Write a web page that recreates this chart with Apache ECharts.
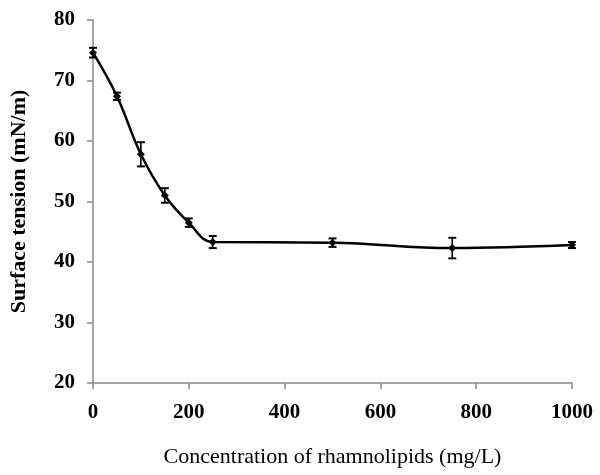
<!DOCTYPE html>
<html>
<head>
<meta charset="utf-8">
<script src="https://cdn.jsdelivr.net/npm/echarts@6/dist/echarts.min.js"></script>
<style>html,body{margin:0;padding:0;background:#fff;}#c{width:600px;height:475px;}</style>
</head>
<body>
<div id="c"></div>
<script>
var concentrations = [0, 50, 100, 150, 200, 250, 500, 750, 1000];
var tension = [74.6, 67.4, 57.8, 51.0, 46.5, 43.3, 43.2, 42.3, 42.8];
var errors = [0.8, 0.6, 2.0, 1.2, 0.7, 1.0, 0.7, 1.7, 0.5];
var xTicks = [0, 200, 400, 600, 800, 1000];
var yTicks = [20, 30, 40, 50, 60, 70, 80];

var lineData = concentrations.map(function (c, i) { return [c, tension[i]]; });
var errData = concentrations.map(function (c, i) { return [c, tension[i] - errors[i], tension[i] + errors[i]]; });

var chart = echarts.init(document.getElementById('c'), null, {renderer: 'canvas'});
var font = '"Liberation Serif", "Times New Roman", serif';
chart.setOption({
  animation: false,
  backgroundColor: '#fff',
  grid: {left: 92, right: 28, top: 20, bottom: 92},
  xAxis: {
    type: 'value', min: xTicks[0], max: xTicks[xTicks.length - 1], interval: 200,
    name: 'Concentration of rhamnolipids (mg/L)', nameLocation: 'middle', nameGap: 63,
    nameTextStyle: {fontFamily: font, fontSize: 22, color: '#000'},
    axisLine: {lineStyle: {color: '#888', width: 1.5}},
    axisTick: {show: true, inside: false, length: 6, lineStyle: {color: '#888', width: 1.5}},
    axisLabel: {fontFamily: font, fontSize: 21, fontWeight: 'bold', color: '#000', margin: 19,
      formatter: function (v) { return String(v); }},
    splitLine: {show: false}
  },
  yAxis: {
    type: 'value', min: yTicks[0], max: yTicks[yTicks.length - 1], interval: 10,
    name: 'Surface tension (mN/m)', nameLocation: 'middle', nameGap: 63, nameRotate: 90,
    nameTextStyle: {fontFamily: font, fontSize: 22, fontWeight: 'bold', color: '#000'},
    axisLine: {show: true, lineStyle: {color: '#888', width: 1.5}},
    axisTick: {show: true, inside: false, length: 6, lineStyle: {color: '#888', width: 1.5}},
    axisLabel: {fontFamily: font, fontSize: 21, fontWeight: 'bold', color: '#000', margin: 18},
    splitLine: {show: false}
  },
  series: [
    {
      type: 'line', data: lineData, smooth: 0.4,
      symbol: 'diamond', symbolSize: 8,
      lineStyle: {color: '#000', width: 2.5},
      itemStyle: {color: '#000'},
      z: 3
    },
    {
      type: 'custom',
      data: errData,
      renderItem: function (params, api) {
        var x = api.value(0);
        var lo = api.coord([x, api.value(1)]);
        var hi = api.coord([x, api.value(2)]);
        var w = 4;
        return {
          type: 'group',
          children: [
            {type: 'line', shape: {x1: lo[0], y1: lo[1], x2: hi[0], y2: hi[1]}, style: {stroke: '#000', lineWidth: 1.6}},
            {type: 'line', shape: {x1: lo[0] - w, y1: lo[1], x2: lo[0] + w, y2: lo[1]}, style: {stroke: '#000', lineWidth: 2}},
            {type: 'line', shape: {x1: hi[0] - w, y1: hi[1], x2: hi[0] + w, y2: hi[1]}, style: {stroke: '#000', lineWidth: 2}}
          ]
        };
      },
      z: 4
    }
  ]
});
</script>
</body>
</html>
